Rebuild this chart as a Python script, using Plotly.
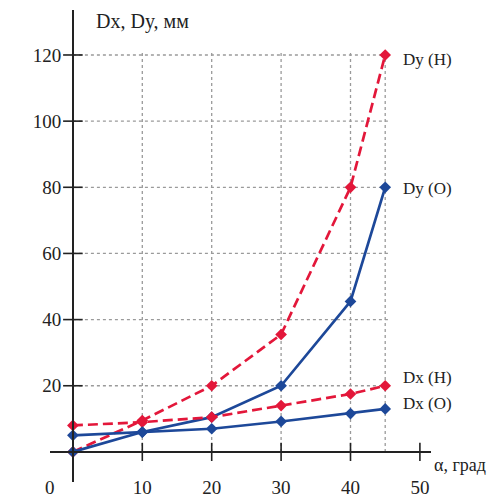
import plotly.graph_objects as go

angles = [0, 10, 20, 30, 40, 45]
dy_h = [0, 9.5, 20, 35.5, 80, 120]
dy_o = [0, 6, 10.5, 20, 45.5, 80]
dx_h = [8, 9, 10.5, 14, 17.5, 20]
dx_o = [5, 6, 7, 9.2, 11.6, 13]

x_ticks = [10, 20, 30, 40, 50]
y_ticks = [20, 40, 60, 80, 100, 120]
grid_x = [10, 20, 30, 40, 45]

series_names = ["Dy (Н)", "Dy (О)", "Dx (Н)", "Dx (О)"]

RED = "#e3173a"
BLUE = "#1d4899"
FONT = "Liberation Serif"

xmin, xmax = -3.3, 51.6
ymin, ymax = -9.1, 133.6

fig = go.Figure()

shapes = []
for gx in grid_x:
    shapes.append(dict(type="line", xref="x", yref="y", x0=gx, x1=gx, y0=0, y1=121.5,
                       line=dict(color="#9a9a9a", width=1.3, dash="dot"), layer="below"))
for gy in y_ticks:
    shapes.append(dict(type="line", xref="x", yref="y", x0=0, x1=45.5, y0=gy, y1=gy,
                       line=dict(color="#9a9a9a", width=1.3, dash="dot"), layer="below"))

series = [(dy_h, RED, "10px,5px"), (dy_o, BLUE, "solid"), (dx_h, RED, "10px,5px"), (dx_o, BLUE, "solid")]
for (vals, col, dash), name in zip(series, series_names):
    fig.add_trace(go.Scatter(x=angles, y=vals, mode="lines+markers", name=name,
                             line=dict(color=col, width=2.7, dash=dash),
                             marker=dict(symbol="diamond", size=9, color=col),
                             cliponaxis=False, showlegend=False))

fig.add_trace(go.Scatter(x=x_ticks, y=[0] * len(x_ticks), mode="markers",
                         marker=dict(symbol="line-ns", size=13, line=dict(color="#222", width=1.6)),
                         showlegend=False, hoverinfo="skip", cliponaxis=False))
fig.add_trace(go.Scatter(x=[0] * len(y_ticks), y=y_ticks, mode="markers",
                         marker=dict(symbol="line-ew", size=14, line=dict(color="#222", width=1.6)),
                         showlegend=False, hoverinfo="skip", cliponaxis=False))

annotations = []
label_pos = [118.5, 79.5, 22.5, 14.5]
for name, ly in zip(series_names, label_pos):
    annotations.append(dict(x=47.3, y=ly, xref="x", yref="y", text=name, showarrow=False,
                            xanchor="left", yanchor="middle", font=dict(family=FONT, size=17, color="#222")))
annotations.append(dict(x=3.1, y=130, xref="x", yref="y", text="Dx, Dy, мм", showarrow=False,
                        xanchor="left", yanchor="middle", font=dict(family=FONT, size=20, color="#222")))
annotations.append(dict(x=1.003, y=0.036, xref="paper", yref="paper", text="α, град", showarrow=False,
                        xanchor="left", yanchor="middle", font=dict(family=FONT, size=18, color="#222")))
annotations.append(dict(x=0.0, y=-0.011, xref="paper", yref="paper", text="0", showarrow=False,
                        xanchor="center", yanchor="middle", font=dict(family=FONT, size=19, color="#222")))

# page body has an 8px margin, so the figure is sized/offset to land where the reference is
fig.update_layout(
    width=489, height=491,
    margin=dict(l=42, r=66, t=2, b=17),
    paper_bgcolor="white", plot_bgcolor="white",
    shapes=shapes, annotations=annotations,
    xaxis=dict(range=[xmin, xmax], tickvals=x_ticks, ticktext=[str(v) for v in x_ticks],
               showgrid=False, zeroline=False, showline=True, linecolor="#222", linewidth=1.8,
               anchor="free", position=(0 - ymin) / (ymax - ymin), automargin=False,
               ticks="outside", ticklen=18, tickcolor="rgba(0,0,0,0)",
               tickfont=dict(family=FONT, size=19, color="#222")),
    yaxis=dict(range=[ymin, ymax], tickvals=y_ticks, ticktext=[str(v) for v in y_ticks],
               showgrid=False, zeroline=False, showline=True, linecolor="#222", linewidth=1.8,
               anchor="free", position=(0 - xmin) / (xmax - xmin), automargin=False,
               ticks="outside", ticklen=7, tickcolor="rgba(0,0,0,0)",
               tickfont=dict(family=FONT, size=19, color="#222")),
)

fig.write_html("out.html")
